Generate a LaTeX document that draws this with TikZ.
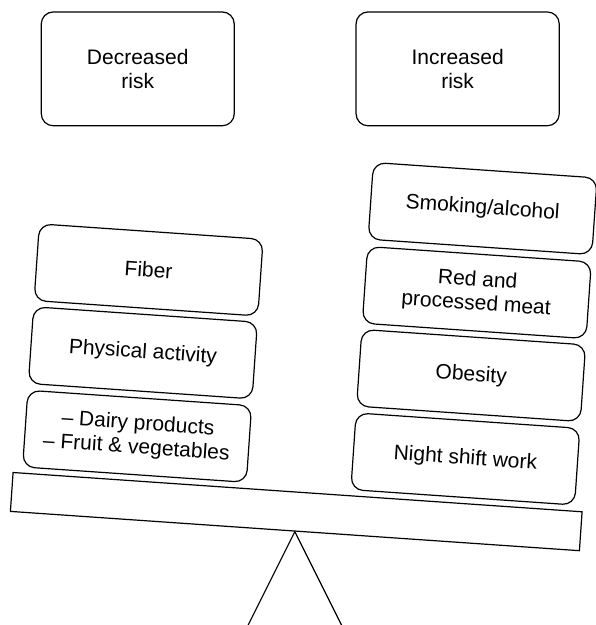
\documentclass[tikz,border=0pt]{standalone}
\usepackage{fontspec}
\setmainfont{Liberation Sans}
\usepackage{tikz}

\begin{document}
\begin{tikzpicture}[
  line width=0.6pt,
  font=\fontsize{10.5}{12}\selectfont,
  riskbox/.style={draw, rounded corners=6pt, align=center, minimum height=2cm},
  factor/.style={draw, rounded corners=6pt, align=center, minimum width=3.94cm, minimum height=1.35cm, transform shape},
  plank/.style={draw, minimum width=10.02cm, minimum height=0.685cm, anchor=south, transform shape}
]
  \useasboundingbox (0,0) rectangle (10.47,10.98);

  \node[riskbox, minimum width=3.39cm] (dec) at (2.42,9.77) {Decreased\\risk};
  \node[riskbox, minimum width=3.57cm] (inc) at (8.04,9.77) {Increased\\risk};

  % seesaw, tilted to the right
  \begin{scope}[shift={(5.18,1.64)}, rotate=-3.95]
    \node[plank] (plank) at (0,0) {};

    \node[factor] (dairy) at (-2.88,1.48) {-- Dairy products\\-- Fruit \& vegetables};
    \node[factor] (activity) at (-2.88,2.95) {Physical activity};
    \node[factor] (fiber) at (-2.88,4.41) {Fiber};

    \node[factor] (night) at (2.90,1.48) {Night shift work};
    \node[factor] (obesity) at (2.90,2.95) {Obesity};
    \node[factor] (meat) at (2.90,4.41) {Red and\\processed meat};
    \node[factor] (smoking) at (2.90,5.89) {Smoking/alcohol};
  \end{scope}

  \coordinate (footL) at (4.36,0);
  \coordinate (footR) at (6.00,0);
  \draw (footL) -- (plank.south) -- (footR);
\end{tikzpicture}
\end{document}
